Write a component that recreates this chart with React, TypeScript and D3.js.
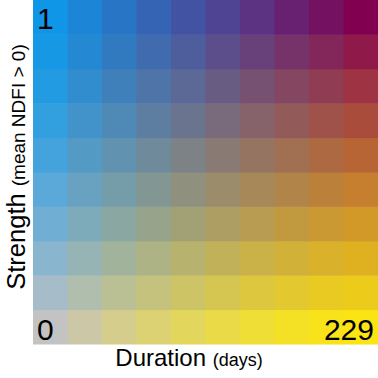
import React from "react";
import * as d3 from "d3";

const durationBins = [0, 1, 2, 3, 4, 5, 6, 7, 8, 9];
const strengthBins = [0, 1, 2, 3, 4, 5, 6, 7, 8, 9];
const cornerColors = {
  topLeft: [15, 150, 230],
  topRight: [130, 0, 80],
  bottomLeft: [195, 195, 195],
  bottomRight: [250, 228, 20],
};
const durationLabels = ["0", "229"];
const strengthLabels = ["0", "1"];

const W = 378;
const H = 378;

export default function App() {
  const x = d3.scaleBand<number>().domain(durationBins).range([33, 378]);
  const y = d3.scaleBand<number>().domain(strengthBins).range([344, 0]);
  const u = d3.scaleLinear().domain([0, 9]).range([0, 1]);
  const color = (i: number, j: number) => {
    const a = u(i);
    const b = u(j);
    const bl0 = (1 - a) * (1 - b);
    const bl = Math.pow(bl0, 1.5);
    const k = bl0 < 1 ? (1 - bl) / (1 - bl0) : 0;
    const w = {
      bottomLeft: bl,
      bottomRight: a * (1 - b) * k,
      topLeft: (1 - a) * b * k,
      topRight: a * b * k,
    };
    const c = [0, 1, 2].map((ch) =>
      Math.round(
        (Object.keys(w) as (keyof typeof w)[]).reduce(
          (s, key) => s + w[key] * cornerColors[key][ch],
          0
        )
      )
    );
    return d3.rgb(c[0], c[1], c[2]).formatHex();
  };

  return (
    <svg
      width={W}
      height={H}
      style={{ position: "absolute", left: 0, top: 0, background: "#fff" }}
      fontFamily="Liberation Sans, Arial, sans-serif"
    >
      {strengthBins.map((j) =>
        durationBins.map((i) => (
          <rect
            key={`${i}-${j}`}
            x={x(i)}
            y={y(j)}
            width={x.bandwidth() + 0.5}
            height={y.bandwidth() + 0.5}
            fill={color(i, j)}
          />
        ))
      )}
      <text x={37} y={29} fontSize={30}>{strengthLabels[1]}</text>
      <text x={37} y={340} fontSize={30}>{durationLabels[0]}</text>
      <text x={374} y={340} fontSize={30} textAnchor="end">{durationLabels[1]}</text>
      <text x={189} y={366} fontSize={24} textAnchor="middle">
        Duration <tspan fontSize={18}>(days)</tspan>
      </text>
      <text
        transform="translate(25,167) rotate(-90)"
        fontSize={25.5}
        textAnchor="middle"
      >
        Strength <tspan fontSize={19}>(mean NDFI &gt; 0)</tspan>
      </text>
    </svg>
  );
}
